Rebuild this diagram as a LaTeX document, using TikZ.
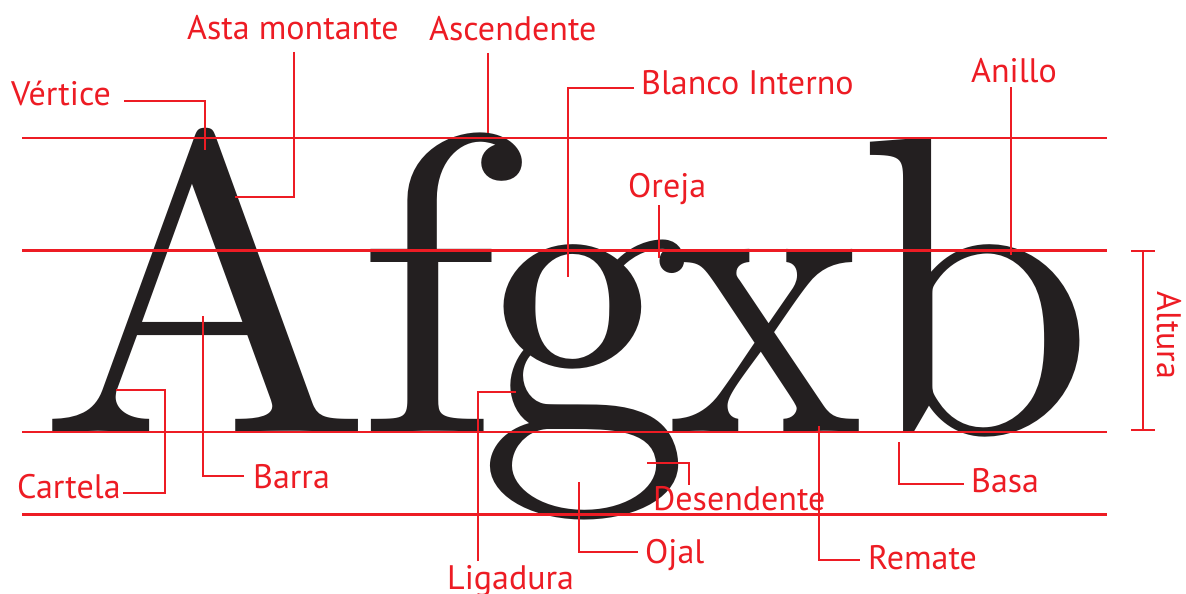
\documentclass[tikz,border=0pt]{standalone}
\usepackage{fontspec}
\usepackage{graphicx}
\newfontfamily\labelfont{PT Sans}
\newfontfamily\glyphfont{lmroman10-regular.otf}
\definecolor{tred}{HTML}{ED1C24}
\definecolor{inkc}{HTML}{231F20}
\begin{document}
\begin{tikzpicture}[x=1pt,y=-1pt,
  lbl/.style={inner sep=0pt, anchor=base west, text=tred, font=\labelfont\fontsize{34}{34}\selectfont},
  glyph/.style={inner sep=0pt, anchor=base west, text=inkc, font=\glyphfont\fontsize{425}{425}\selectfont},
  guide/.style={draw=tred, line width=2.4pt},
  leader/.style={draw=tred, line width=1.2pt}]
\useasboundingbox[fill=white] (0,0) rectangle (1186,594);
% glyphs
\node[glyph] (gA) at (38,432) {\scalebox{1.05}[1]{A}};
\node[glyph] (gf) at (355,432) {\scalebox{1.1}[1]{f}};
\node[glyph] (gg) at (478,432) {g};
\node[glyph] (gx) at (668,432) {\scalebox{0.87}[1]{x}};
\node[glyph] (gb) at (858,432) {b};
% guide lines
\coordinate (asL) at (22,138);   \coordinate (asR) at (1107,138);
\coordinate (xhL) at (22,250.5); \coordinate (xhR) at (1107,250.5);
\coordinate (blL) at (22,432);   \coordinate (blR) at (1107,432);
\coordinate (dsL) at (22,514.5); \coordinate (dsR) at (1107,514.5);
\draw[guide] (asL) -- (asR);
\draw[guide] (xhL) -- (xhR);
\draw[guide] (blL) -- (blR);
\draw[guide] (dsL) -- (dsR);
% labels
\node[lbl] (vertice) at (11,106) {Vértice};
\node[lbl] (asta) at (187,40) {Asta montante};
\node[lbl] (ascend) at (429,41) {Ascendente};
\node[lbl] (blanco) at (641,94) {Blanco Interno};
\node[lbl] (oreja) at (628,197) {Oreja};
\node[lbl] (anillo) at (971,82) {Anillo};
\node[lbl] (cartela) at (17,498) {Cartela};
\node[lbl] (barra) at (253,488) {Barra};
\node[lbl] (ligadura) at (447,589) {Ligadura};
\node[lbl] (ojal) at (645,563) {Ojal};
\node[lbl] (desend) at (653,510) {Desendente};
\node[lbl] (remate) at (868,569) {Remate};
\node[lbl] (basa) at (971,492) {Basa};
\node[lbl, rotate=-90] (altura) at (1157,291) {Altura};
% leader coordinates
\coordinate (v1) at (124,101); \coordinate (v2) at (205,150);
\coordinate (a1) at (294,52);  \coordinate (a2) at (235,197);
\coordinate (s1) at (488,53);  \coordinate (s2) at (488,133);
\coordinate (b1) at (634,88);  \coordinate (b2) at (568,277);
\coordinate (o1) at (659,205); \coordinate (o2) at (659,258);
\coordinate (n1) at (1011,87); \coordinate (n2) at (1011,255);
\coordinate (c1) at (123,493); \coordinate (c2) at (165,390); \coordinate (c3) at (116,390);
\coordinate (r1) at (244,476); \coordinate (r2) at (203,316);
\coordinate (l1) at (478,561); \coordinate (l2) at (516,392);
\coordinate (j1) at (638,552); \coordinate (j2) at (579,482);
\coordinate (d1) at (647,463); \coordinate (d2) at (689,485);
\coordinate (m1) at (819,426); \coordinate (m2) at (860,560);
\coordinate (e1) at (899,442); \coordinate (e2) at (964,484);
\coordinate (h1) at (1143,251); \coordinate (h2) at (1143,430);
% leaders
\draw[leader] (v1) -| (v2);
\draw[leader] (a1) |- (a2);
\draw[leader] (s1) -- (s2);
\draw[leader] (b1) -| (b2);
\draw[leader] (o1) -- (o2);
\draw[leader] (n1) -- (n2);
\draw[leader] (c1) -| (c2) -- (c3);
\draw[leader] (r1) -| (r2);
\draw[leader] (l1) |- (l2);
\draw[leader] (j1) -| (j2);
\draw[leader] (d1) -| (d2);
\draw[leader] (m1) |- (m2);
\draw[leader] (e1) |- (e2);
\draw[leader] (h1) -- (h2);
\draw[leader] ([xshift=-12pt]h1) -- ([xshift=12pt]h1);
\draw[leader] ([xshift=-12pt]h2) -- ([xshift=12pt]h2);
\end{tikzpicture}
\end{document}
